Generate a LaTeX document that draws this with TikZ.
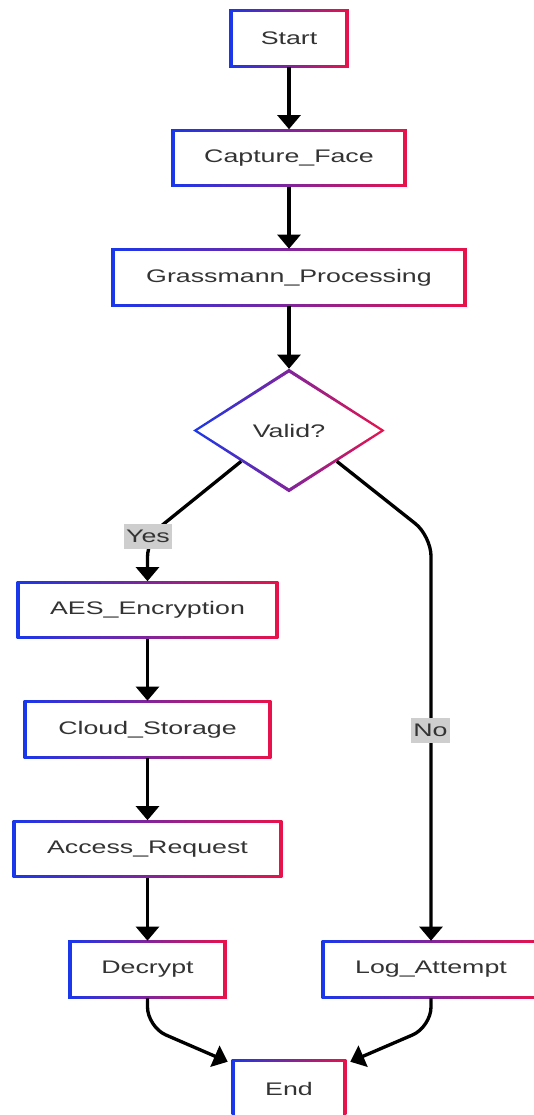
\documentclass[tikz,border=0pt]{standalone}
\usepackage{fontspec}
\setmainfont{Liberation Sans}[FakeStretch=1.47]
\usetikzlibrary{arrows.meta,shapes.geometric,backgrounds,calc}
\definecolor{gblue}{RGB}{25,55,235}
\definecolor{gred}{RGB}{232,18,75}
\definecolor{txt}{RGB}{51,51,51}
\definecolor{lblbg}{RGB}{206,206,206}
\tikzset{
  stepbox/.style={rectangle, inner sep=0pt, minimum height=42.75pt, text=txt,
    font=\fontsize{13.65}{16}\selectfont},
  decision/.style={diamond, inner sep=0pt, minimum width=143.25pt, minimum height=92.25pt,
    aspect=1.553, text=txt, font=\fontsize{13.65}{16}\selectfont},
  flow/.style={line width=2.5pt, black, rounded corners=15pt,
    -{Triangle[length=10.5pt,width=17pt]}},
  edgelabel/.style={fill=lblbg, text=txt, inner sep=1.5pt, minimum height=18.75pt,
    font=\fontsize{13.65}{16}\selectfont},
  gradframe/.style={left color=gblue, right color=gred}
}
\begin{document}
\begin{tikzpicture}[x=0.75pt, y=-0.75pt]
\useasboundingbox (0,0) rectangle (534,1115);

% process steps and the decision
\node[stepbox, minimum width=89.25pt]  (start)   at (289,38.5)    {Start};
\node[stepbox, minimum width=176.25pt] (capture) at (289,158)     {Capture\_Face};
\node[stepbox, minimum width=266.25pt] (grass)   at (289,277.5)   {Grassmann\_Processing};
\node[decision]                        (valid)   at (289,430.5)   {Valid?};
\node[stepbox, minimum width=195.75pt] (aes)     at (147.5,610)   {AES\_Encryption};
\node[stepbox, minimum width=185.25pt] (cloud)   at (147.5,729.5) {Cloud\_Storage};
\node[stepbox, minimum width=201.75pt] (access)  at (147.5,849)   {Access\_Request};
\node[stepbox, minimum width=118.5pt]  (decrypt) at (147.5,969.5) {Decrypt};
\node[stepbox, minimum width=163.5pt]  (logat)   at (431,969.5)   {Log\_Attempt};
\node[stepbox, minimum width=85.5pt]   (end)     at (289,1088.5)  {End};

% gradient outlines behind the texts
\begin{scope}[on background layer]
  \foreach \n in {start,capture,grass,aes,cloud,access,decrypt,logat,end}{
    \shade[gradframe] (\n.north west) rectangle (\n.south east);
    \fill[white] ([shift={(3.3,2.7)}]\n.north west) rectangle ([shift={(-3.3,-2.7)}]\n.south east);
  }
  \shade[gradframe] (valid.north) -- (valid.east) -- (valid.south) -- (valid.west) -- cycle;
  \fill[white] ($(valid.center)!0.935!(valid.north)$) -- ($(valid.center)!0.955!(valid.east)$)
    -- ($(valid.center)!0.935!(valid.south)$) -- ($(valid.center)!0.955!(valid.west)$) -- cycle;
\end{scope}

% connectors
\draw[flow] (start.south) -- (capture.north);
\draw[flow] (capture.south) -- (grass.north);
\draw[flow] (grass.south) -- (valid.north);
\draw[flow] (valid.south west) -- (aes.north |- 0,537) -- (aes.north);
\node[edgelabel] (yes) at (148,536.5) {Yes};
\draw[flow] (valid.south east) -- (logat.north |- 0,536) -- (logat.north);
\node[edgelabel] (no) at (430.5,730) {No};
\draw[flow] (aes.south) -- (cloud.north);
\draw[flow] (cloud.south) -- (access.north);
\draw[flow] (access.south) -- (decrypt.north);
\draw[flow] (decrypt.south) -- (decrypt.south |- 0,1027) -- ([shift={(-4,2)}]end.north west);
\draw[flow] (logat.south) -- (logat.south |- 0,1027) -- ([shift={(4,2)}]end.north east);
\end{tikzpicture}
\end{document}
